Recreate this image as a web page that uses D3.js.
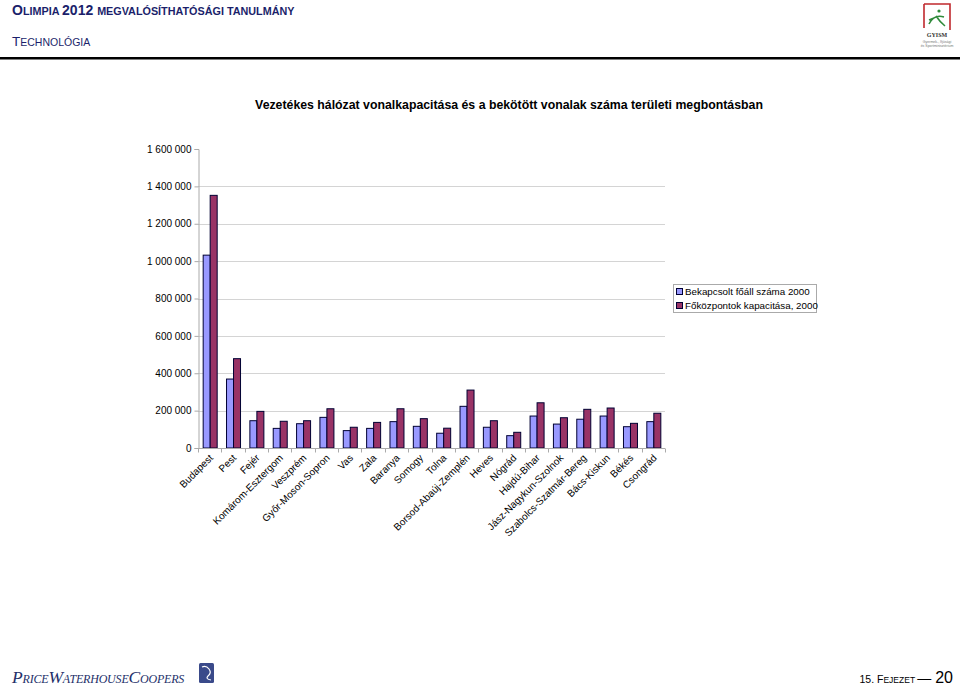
<!DOCTYPE html>
<html>
<head>
<meta charset="utf-8">
<script src="https://cdn.jsdelivr.net/npm/d3@7"></script>
<style>
html,body{margin:0;padding:0;background:#fff;}
svg{display:block;font-family:Arial,"Liberation Sans",sans-serif;}
</style>
</head>
<body>
<svg id="chart" width="960" height="687"></svg>
<script>
const categories = ["Budapest","Pest","Fejér","Komárom-Esztergom","Veszprém","Győr-Moson-Sopron","Vas","Zala","Baranya","Somogy","Tolna","Borsod-Abaúj-Zemplén","Heves","Nógrád","Hajdú-Bihar","Jász-Nagykun-Szolnok","Szabolcs-Szatmár-Bereg","Bács-Kiskun","Békés","Csongrád"];
const bekapcsolt = [1032000,369000,146000,105000,130000,164000,93000,105000,141000,116000,79000,223000,111000,66000,171000,128000,154000,171000,114000,141000];
const fokozpontok = [1352000,478000,196000,143000,146000,210000,111000,137000,210000,157000,106000,310000,146000,84000,242000,162000,207000,214000,132000,186000];
const seriesNames = ["Bekapcsolt főáll száma 2000","Főközpontok kapacitása, 2000"];
const yTicks = [0,200000,400000,600000,800000,1000000,1200000,1400000,1600000];
const title = "Vezetékes hálózat vonalkapacitása és a bekötött vonalak száma területi megbontásban";

const svg = d3.select("#chart");
const navy = "#1b1f6b";

// ---- header ----
const h1 = svg.append("text").attr("x",12).attr("y",15).attr("fill",navy).attr("font-weight","bold");
[["O",14],["LIMPIA ",10.8],["2012 ",14],["MEGVALÓSÍTHATÓSÁGI TANULMÁNY",10.8]].forEach(([t,s])=>h1.append("tspan").attr("font-size",s).text(t));
const h2 = svg.append("text").attr("x",12).attr("y",46).attr("fill",navy);
[["T",13.5],["ECHNOLÓGIA",10.5]].forEach(([t,s])=>h2.append("tspan").attr("font-size",s).text(t));
svg.append("rect").attr("x",0).attr("y",57).attr("width",960).attr("height",2.5).attr("fill","#000");

// GYISM logo
const lg = svg.append("g");
lg.append("path").attr("d","M924,4 L950,4 L950,30 M924,4 L924,28").attr("fill","none").attr("stroke","#c0282d").attr("stroke-width",1.6);
lg.append("circle").attr("cx",939).attr("cy",11).attr("r",1.6).attr("fill","#2f8a3a");
lg.append("path").attr("d","M929,24 Q934,14 944,17 M936,16 Q940,22 945,26 M929,20 L934,18").attr("fill","none").attr("stroke","#2f8a3a").attr("stroke-width",1.6);
lg.append("text").attr("x",937).attr("y",37).attr("text-anchor","middle").attr("font-size",6).attr("font-weight","bold").attr("font-family","Liberation Serif,serif").attr("fill","#333").text("GYISM");
lg.append("text").attr("x",937).attr("y",43).attr("text-anchor","middle").attr("font-size",3.5).attr("fill","#777").text("Gyermek-, Ifjúsági");
lg.append("text").attr("x",937).attr("y",47).attr("text-anchor","middle").attr("font-size",3.5).attr("fill","#777").text("és Sportminisztérium");

// ---- title ----
svg.append("text").attr("x",509).attr("y",109).attr("text-anchor","middle").attr("font-size",12.3).attr("font-weight","bold").attr("fill","#000").text(title);

// ---- chart ----
const x0 = 198, x1 = 665, yTop = 149, yBot = 448;
const x = d3.scaleBand().domain(categories).range([x0,x1]).paddingInner(0).paddingOuter(0);
const y = d3.scaleLinear().domain([0,1600000]).range([yBot,yTop]);
const barW = 7;

// gridlines
svg.append("g").selectAll("line").data(yTicks.filter(d=>d>0 && d<1600000)).join("line")
  .attr("x1",x0).attr("x2",x1).attr("y1",d=>Math.round(y(d))+0.5).attr("y2",d=>Math.round(y(d))+0.5)
  .attr("stroke","#d4d4d4").attr("stroke-width",1);

// bars
const series = [bekapcsolt, fokozpontok];
const colors = ["#9999ff","#993366"];
series.forEach((vals,si)=>{
  svg.append("g").selectAll("rect").data(vals).join("rect")
    .attr("x",(d,i)=>x(categories[i]) + x.bandwidth()/2 - barW + si*barW + 0.5)
    .attr("y",d=>y(d))
    .attr("width",barW)
    .attr("height",d=>yBot-y(d))
    .attr("fill",colors[si]).attr("stroke","#000033").attr("stroke-width",1);
});

// y axis
const yAxis = d3.axisLeft(y).tickValues(yTicks).tickSize(4).tickPadding(3)
  .tickFormat(d=>d3.format(",")(d).replace(/,/g," "));
const ya = svg.append("g").attr("transform",`translate(${x0+0.5},0)`).call(yAxis);
ya.select(".domain").attr("stroke","#aaa");
ya.selectAll(".tick line").attr("stroke","#aaa");
ya.selectAll("text").attr("font-size",10).attr("fill","#000").attr("font-family","Arial,Liberation Sans,sans-serif");

// x axis
const xa = svg.append("g").attr("transform",`translate(0,${yBot+0.5})`);
xa.append("line").attr("x1",x0).attr("x2",x1).attr("stroke","#aaa");
xa.selectAll("line.t").data(d3.range(categories.length+1)).join("line").attr("class","t")
  .attr("x1",i=>Math.round(x0+i*x.bandwidth())+0.5).attr("x2",i=>Math.round(x0+i*x.bandwidth())+0.5)
  .attr("y1",0).attr("y2",4).attr("stroke","#aaa");
xa.selectAll("text").data(categories).join("text")
  .attr("transform",d=>`translate(${x(d)+x.bandwidth()/2+4},${10}) rotate(-45)`)
  .attr("text-anchor","end").attr("font-size",10).attr("fill","#000").text(d=>d);

// legend
const leg = svg.append("g");
leg.append("rect").attr("x",673.5).attr("y",284.5).attr("width",143).attr("height",28).attr("fill","#fff").attr("stroke","#aaa");
seriesNames.forEach((n,i)=>{
  leg.append("rect").attr("x",676.5).attr("y",288.5+i*14).attr("width",6).attr("height",6).attr("fill",colors[i]).attr("stroke","#000033");
  leg.append("text").attr("x",685).attr("y",295+i*14).attr("font-size",9.8).attr("fill","#000").text(n);
});

// ---- footer ----
const pw = svg.append("text").attr("x",12).attr("y",683).attr("fill","#24306a").attr("font-family","Liberation Serif,serif").attr("font-style","italic").attr("letter-spacing",-0.2);
[["P",17.5],["RICE",12],["W",17.5],["ATERHOUSE",12],["C",17.5],["OOPERS",12]].forEach(([t,s])=>pw.append("tspan").attr("font-size",s).text(t));
svg.append("rect").attr("x",199).attr("y",663).attr("width",15).attr("height",20).attr("rx",1.5).attr("fill","#3a4a8a");
svg.append("path").attr("d","M202,667 Q206,665 209,669 Q212,673 208,676 Q205,679 211,680").attr("fill","none").attr("stroke","#fff").attr("stroke-width",1.2);

const ft = svg.append("text").attr("x",953).attr("y",683).attr("text-anchor","end").attr("fill","#000");
[["15. F",10.5],["EJEZET ",8.5],["— ",14],["20",16]].forEach(([t,s])=>ft.append("tspan").attr("font-size",s).text(t));
</script>
</body>
</html>
